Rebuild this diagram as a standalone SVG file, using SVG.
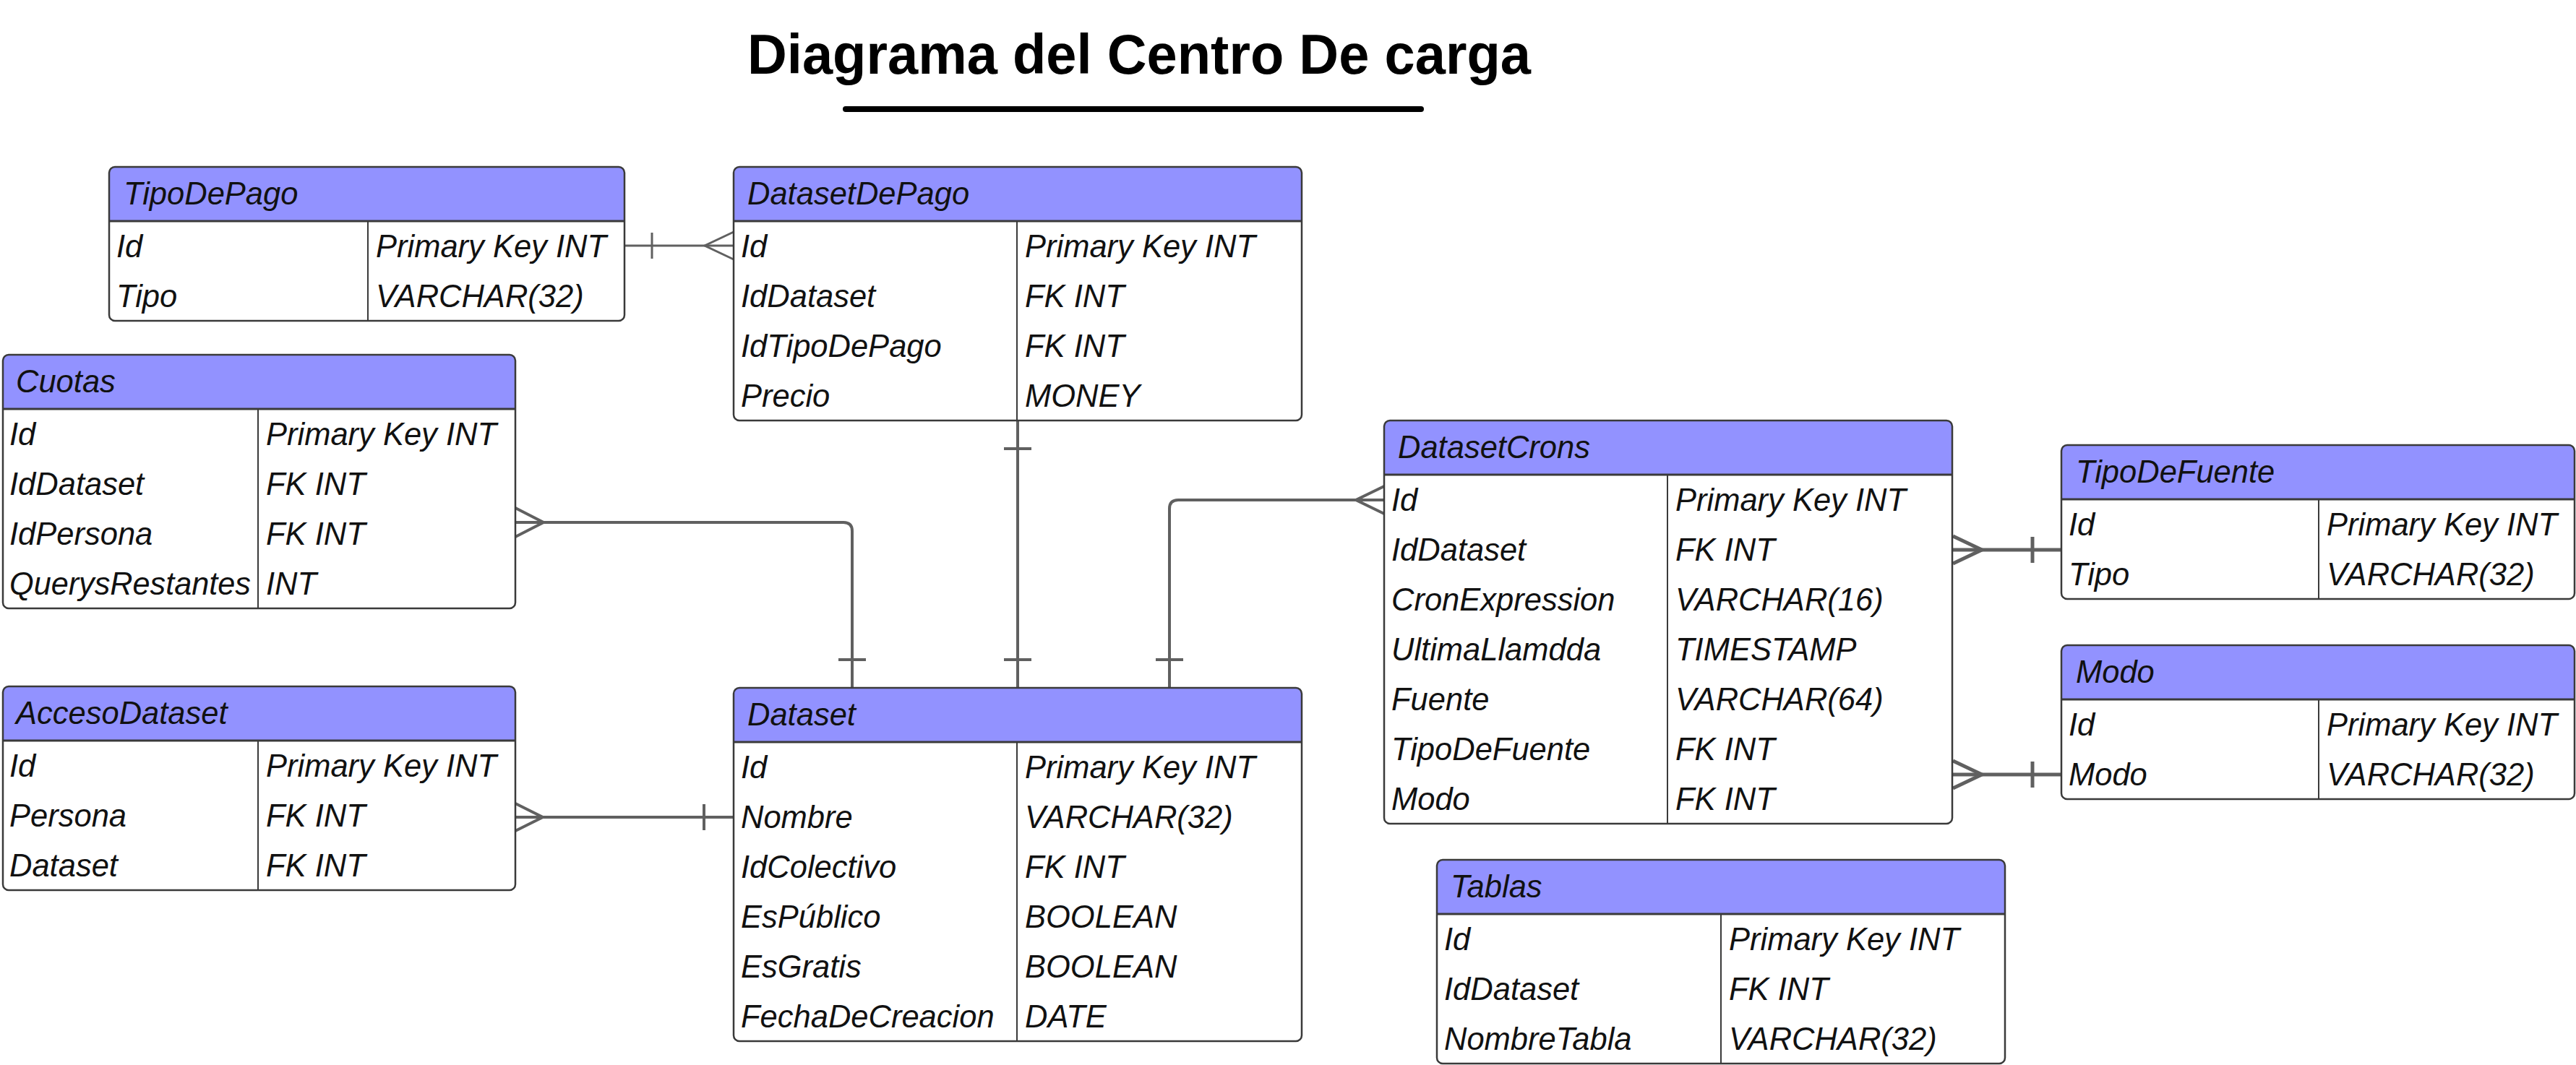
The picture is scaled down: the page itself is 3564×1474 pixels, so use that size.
<svg xmlns="http://www.w3.org/2000/svg" width="3564" height="1474" viewBox="0 0 3564 1474">
<style>
.bg{fill:#ffffff}
.body{fill:#ffffff;stroke:none}
.hdr{fill:#9292ff;stroke:none}
.frame{fill:none;stroke:#3a3a3a;stroke-width:2.5}
.sep{stroke:#3a3a3a;stroke-width:3}
.div{stroke:#3a3a3a;stroke-width:2}
text{font-family:"Liberation Sans",Arial,sans-serif;font-style:italic;font-size:43.5px;fill:#111111}
.title{font-style:normal;font-weight:bold;font-size:78px;fill:#000000}
.con{fill:none;stroke:#606060;stroke-width:4;stroke-linecap:butt}
.thin{stroke-width:3}
.thick{stroke-width:5}
</style>
<rect class="bg" x="0" y="0" width="3564" height="1474"/>
<g id="title">
<text class="title" x="1034" y="102" textLength="1084" lengthAdjust="spacingAndGlyphs">Diagrama del Centro De carga</text>
<line x1="1170" y1="151" x2="1966" y2="151" stroke="#000" stroke-width="8" stroke-linecap="round"/>
</g>
<g id="connectors">
<g id="c-tipodepago">
<line class="con thin" x1="864" y1="340" x2="1015" y2="340"/>
<line class="con thin" x1="902" y1="322" x2="902" y2="358"/>
<polyline class="con thin" points="1015,321 975,340 1015,359"/>
</g>
<g id="c-cuotas">
<path class="con" d="M713,723 H1167 Q1179,723 1179,735 V952"/>
<polyline class="con" points="713,703 752,723 713,743"/>
<line class="con" x1="1160" y1="913" x2="1198" y2="913"/>
</g>
<g id="c-datasetdepago">
<line class="con" x1="1408" y1="582" x2="1408" y2="952"/>
<line class="con" x1="1389" y1="621" x2="1427" y2="621"/>
<line class="con" x1="1389" y1="913" x2="1427" y2="913"/>
</g>
<g id="c-datasetcrons">
<path class="con" d="M1618,952 V704 Q1618,692 1630,692 H1915"/>
<polyline class="con" points="1915,673 1876,692 1915,711"/>
<line class="con" x1="1599" y1="913" x2="1637" y2="913"/>
</g>
<g id="c-acceso">
<line class="con" x1="713" y1="1131" x2="1015" y2="1131"/>
<polyline class="con" points="713,1112 751,1131 713,1150"/>
<line class="con" x1="974" y1="1113" x2="974" y2="1149"/>
</g>
<g id="c-tipodefuente">
<line class="con thick" x1="2701" y1="761" x2="2852" y2="761"/>
<polyline class="con thick" points="2702,742 2742,761 2702,780"/>
<line class="con thick" x1="2812" y1="743" x2="2812" y2="779"/>
</g>
<g id="c-modo">
<line class="con thick" x1="2701" y1="1072" x2="2852" y2="1072"/>
<polyline class="con thick" points="2702,1053 2742,1072 2702,1091"/>
<line class="con thick" x1="2812" y1="1054" x2="2812" y2="1090"/>
</g>
</g>

<g id="TipoDePago">
<rect class="body" x="151" y="231" width="713" height="213" rx="8"/>
<path class="hdr" d="M151,306 V239 Q151,231 159,231 H856 Q864,231 864,239 V306 Z"/>
<line class="sep" x1="151" y1="306" x2="864" y2="306"/>
<line class="div" x1="509" y1="306" x2="509" y2="444"/>
<rect class="frame" x="151" y="231" width="713" height="213" rx="8"/>
<text x="171" y="283">TipoDePago</text>
<text x="161" y="356">Id</text><text x="520" y="356">Primary Key INT</text>
<text x="161" y="425">Tipo</text><text x="520" y="425">VARCHAR(32)</text>
</g>

<g id="DatasetDePago">
<rect class="body" x="1015" y="231" width="786" height="351" rx="8"/>
<path class="hdr" d="M1015,306 V239 Q1015,231 1023,231 H1793 Q1801,231 1801,239 V306 Z"/>
<line class="sep" x1="1015" y1="306" x2="1801" y2="306"/>
<line class="div" x1="1407" y1="306" x2="1407" y2="582"/>
<rect class="frame" x="1015" y="231" width="786" height="351" rx="8"/>
<text x="1034" y="283">DatasetDePago</text>
<text x="1025" y="356">Id</text><text x="1418" y="356">Primary Key INT</text>
<text x="1025" y="425">IdDataset</text><text x="1418" y="425">FK INT</text>
<text x="1025" y="494">IdTipoDePago</text><text x="1418" y="494">FK INT</text>
<text x="1025" y="563">Precio</text><text x="1418" y="563">MONEY</text>
</g>

<g id="Cuotas">
<rect class="body" x="4" y="491" width="709" height="351" rx="8"/>
<path class="hdr" d="M4,566 V499 Q4,491 12,491 H705 Q713,491 713,499 V566 Z"/>
<line class="sep" x1="4" y1="566" x2="713" y2="566"/>
<line class="div" x1="357" y1="566" x2="357" y2="842"/>
<rect class="frame" x="4" y="491" width="709" height="351" rx="8"/>
<text x="22" y="543">Cuotas</text>
<text x="13" y="616">Id</text><text x="368" y="616">Primary Key INT</text>
<text x="13" y="685">IdDataset</text><text x="368" y="685">FK INT</text>
<text x="13" y="754">IdPersona</text><text x="368" y="754">FK INT</text>
<text x="13" y="823" textLength="334" lengthAdjust="spacingAndGlyphs">QuerysRestantes</text><text x="368" y="823">INT</text>
</g>

<g id="AccesoDataset">
<rect class="body" x="4" y="950" width="709" height="282" rx="8"/>
<path class="hdr" d="M4,1025 V958 Q4,950 12,950 H705 Q713,950 713,958 V1025 Z"/>
<line class="sep" x1="4" y1="1025" x2="713" y2="1025"/>
<line class="div" x1="357" y1="1025" x2="357" y2="1232"/>
<rect class="frame" x="4" y="950" width="709" height="282" rx="8"/>
<text x="22" y="1002">AccesoDataset</text>
<text x="13" y="1075">Id</text><text x="368" y="1075">Primary Key INT</text>
<text x="13" y="1144">Persona</text><text x="368" y="1144">FK INT</text>
<text x="13" y="1213">Dataset</text><text x="368" y="1213">FK INT</text>
</g>

<g id="Dataset">
<rect class="body" x="1015" y="952" width="786" height="489" rx="8"/>
<path class="hdr" d="M1015,1027 V960 Q1015,952 1023,952 H1793 Q1801,952 1801,960 V1027 Z"/>
<line class="sep" x1="1015" y1="1027" x2="1801" y2="1027"/>
<line class="div" x1="1407" y1="1027" x2="1407" y2="1441"/>
<rect class="frame" x="1015" y="952" width="786" height="489" rx="8"/>
<text x="1034" y="1004">Dataset</text>
<text x="1025" y="1077">Id</text><text x="1418" y="1077">Primary Key INT</text>
<text x="1025" y="1146">Nombre</text><text x="1418" y="1146">VARCHAR(32)</text>
<text x="1025" y="1215">IdColectivo</text><text x="1418" y="1215">FK INT</text>
<text x="1025" y="1284">EsPúblico</text><text x="1418" y="1284">BOOLEAN</text>
<text x="1025" y="1353">EsGratis</text><text x="1418" y="1353">BOOLEAN</text>
<text x="1025" y="1422">FechaDeCreacion</text><text x="1418" y="1422">DATE</text>
</g>

<g id="DatasetCrons">
<rect class="body" x="1915" y="582" width="786" height="558" rx="8"/>
<path class="hdr" d="M1915,657 V590 Q1915,582 1923,582 H2693 Q2701,582 2701,590 V657 Z"/>
<line class="sep" x1="1915" y1="657" x2="2701" y2="657"/>
<line class="div" x1="2307" y1="657" x2="2307" y2="1140"/>
<rect class="frame" x="1915" y="582" width="786" height="558" rx="8"/>
<text x="1934" y="634">DatasetCrons</text>
<text x="1925" y="707">Id</text><text x="2318" y="707">Primary Key INT</text>
<text x="1925" y="776">IdDataset</text><text x="2318" y="776">FK INT</text>
<text x="1925" y="845">CronExpression</text><text x="2318" y="845">VARCHAR(16)</text>
<text x="1925" y="914">UltimaLlamdda</text><text x="2318" y="914">TIMESTAMP</text>
<text x="1925" y="983">Fuente</text><text x="2318" y="983">VARCHAR(64)</text>
<text x="1925" y="1052">TipoDeFuente</text><text x="2318" y="1052">FK INT</text>
<text x="1925" y="1121">Modo</text><text x="2318" y="1121">FK INT</text>
</g>

<g id="TipoDeFuente">
<rect class="body" x="2852" y="616" width="710" height="213" rx="8"/>
<path class="hdr" d="M2852,691 V624 Q2852,616 2860,616 H3554 Q3562,616 3562,624 V691 Z"/>
<line class="sep" x1="2852" y1="691" x2="3562" y2="691"/>
<line class="div" x1="3208" y1="691" x2="3208" y2="829"/>
<rect class="frame" x="2852" y="616" width="710" height="213" rx="8"/>
<text x="2872" y="668">TipoDeFuente</text>
<text x="2862" y="741">Id</text><text x="3219" y="741">Primary Key INT</text>
<text x="2862" y="810">Tipo</text><text x="3219" y="810">VARCHAR(32)</text>
</g>

<g id="Modo">
<rect class="body" x="2852" y="893" width="710" height="213" rx="8"/>
<path class="hdr" d="M2852,968 V901 Q2852,893 2860,893 H3554 Q3562,893 3562,901 V968 Z"/>
<line class="sep" x1="2852" y1="968" x2="3562" y2="968"/>
<line class="div" x1="3208" y1="968" x2="3208" y2="1106"/>
<rect class="frame" x="2852" y="893" width="710" height="213" rx="8"/>
<text x="2872" y="945">Modo</text>
<text x="2862" y="1018">Id</text><text x="3219" y="1018">Primary Key INT</text>
<text x="2862" y="1087">Modo</text><text x="3219" y="1087">VARCHAR(32)</text>
</g>

<g id="Tablas">
<rect class="body" x="1988" y="1190" width="786" height="282" rx="8"/>
<path class="hdr" d="M1988,1265 V1198 Q1988,1190 1996,1190 H2766 Q2774,1190 2774,1198 V1265 Z"/>
<line class="sep" x1="1988" y1="1265" x2="2774" y2="1265"/>
<line class="div" x1="2381" y1="1265" x2="2381" y2="1472"/>
<rect class="frame" x="1988" y="1190" width="786" height="282" rx="8"/>
<text x="2007" y="1242">Tablas</text>
<text x="1998" y="1315">Id</text><text x="2392" y="1315">Primary Key INT</text>
<text x="1998" y="1384">IdDataset</text><text x="2392" y="1384">FK INT</text>
<text x="1998" y="1453">NombreTabla</text><text x="2392" y="1453">VARCHAR(32)</text>
</g>
</svg>
